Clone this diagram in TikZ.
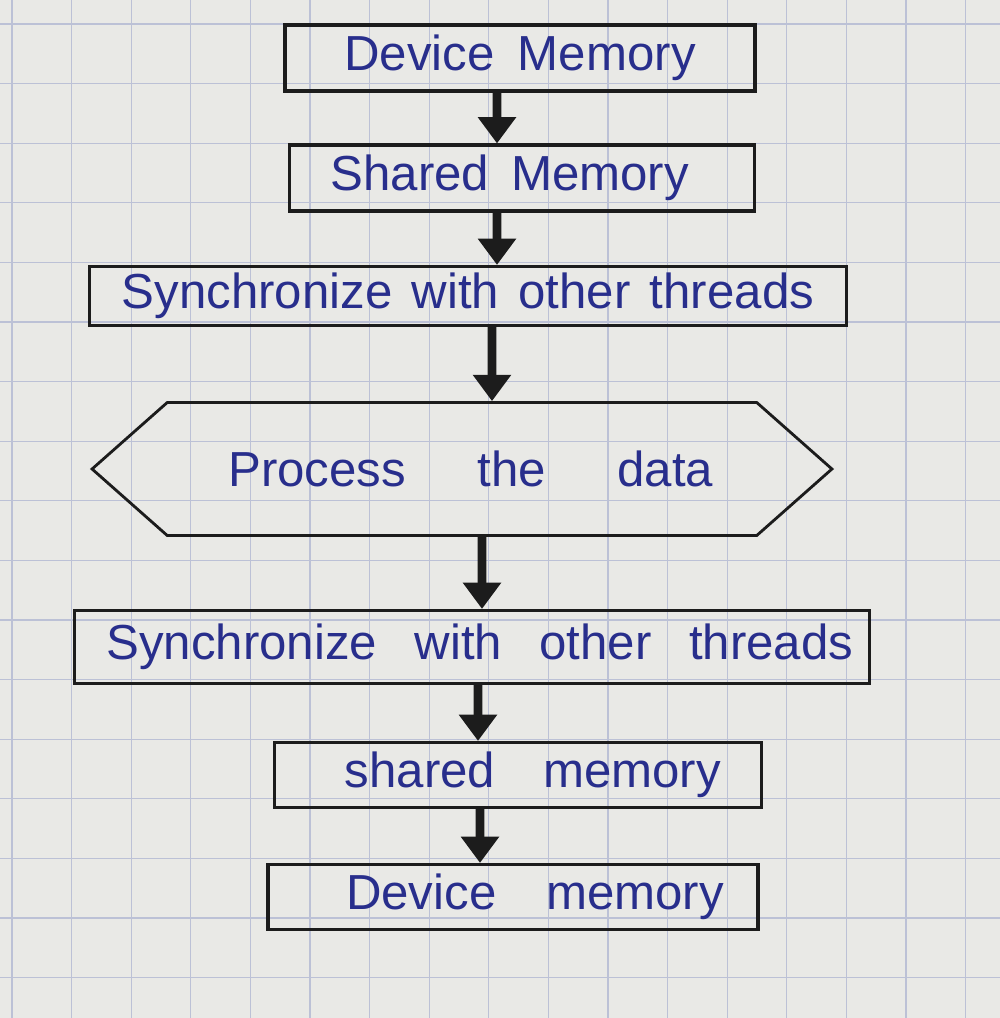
\documentclass[tikz,border=0pt]{standalone}
\usepackage{fontspec}
\setmainfont{Liberation Sans}
\usetikzlibrary{arrows.meta,shapes.symbols}
\definecolor{paper}{RGB}{233,233,230}
\definecolor{gridc}{RGB}{188,193,214}
\definecolor{ink}{RGB}{40,46,140}
\definecolor{pen}{RGB}{28,28,28}
\newcommand{\lbl}[2]{\makebox[#1][s]{#2}}
\begin{document}
\begin{tikzpicture}[x=0.02cm,y=-0.02cm,
  box/.style={draw=pen,line width=1.8pt,rectangle,inner sep=0pt,
    text=ink,font=\fontsize{28}{30}\selectfont},
  hexbox/.style={draw=pen,line width=1.6pt,signal,signal to=west and east,
    signal pointer angle=83,inner sep=0pt,text=ink,font=\fontsize{28}{30}\selectfont},
  arr/.style={draw=pen,line width=5pt,-{Triangle[width=21pt,length=15pt]}}]
\fill[paper] (0,0) rectangle (1000,1018);
\useasboundingbox (0,0) rectangle (1000,1018);
\foreach \k in {0,...,16}{
  \draw[gridc,line width=0.6pt] (12+59.6*\k,0) -- (12+59.6*\k,1018);
  \draw[gridc,line width=0.6pt] (0,24+59.6*\k) -- (1000,24+59.6*\k);
}
\node[box,minimum width=9.4cm,minimum height=1.32cm] (n1) at (520,58) {\lbl{200pt}{Device Memory}};
\node[box,minimum width=9.3cm,minimum height=1.32cm] (n2) at (522,178) {\lbl{204pt}{Shared Memory}\hspace*{14pt}};
\node[box,minimum width=15.14cm,minimum height=1.18cm] (n3) at (468,296) {\lbl{394pt}{Synchronize with other threads}};
\node[hexbox,minimum width=14.8cm,minimum height=2.66cm] (n4) at (462,469) {\hspace*{10pt}\lbl{276pt}{Process the data}};
\node[box,minimum width=15.9cm,minimum height=1.46cm] (n5) at (472,647) {\hspace*{9pt}\lbl{425pt}{Synchronize with other threads}};
\node[box,minimum width=9.74cm,minimum height=1.3cm] (n6) at (518,775) {\hspace*{17pt}\lbl{214pt}{shared memory}};
\node[box,minimum width=9.8cm,minimum height=1.3cm] (n7) at (513,897) {\hspace*{25pt}\lbl{215pt}{Device memory}};
\draw[arr] ([xshift=-0.46cm]n1.south) -- ([xshift=-0.5cm]n2.north);
\draw[arr] ([xshift=-0.5cm]n2.south) -- ([xshift=0.58cm]n3.north);
\draw[arr] ([xshift=0.48cm]n3.south) -- ([xshift=0.6cm]n4.north);
\draw[arr] ([xshift=0.4cm]n4.south) -- ([xshift=0.2cm]n5.north);
\draw[arr] ([xshift=0.12cm]n5.south) -- ([xshift=-0.8cm]n6.north);
\draw[arr] ([xshift=-0.76cm]n6.south) -- ([xshift=-0.66cm]n7.north);
\end{tikzpicture}
\end{document}
